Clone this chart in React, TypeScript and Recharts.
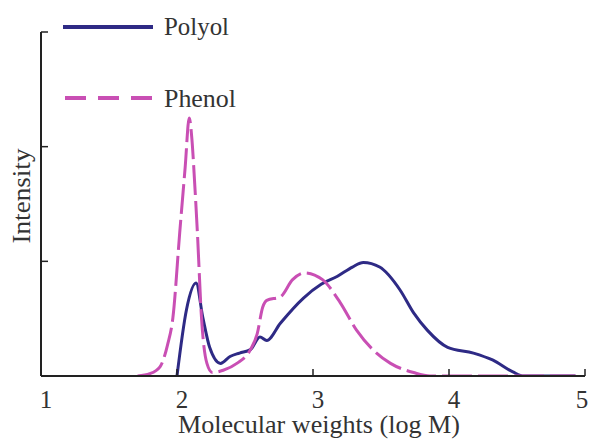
import React from "react";
import { LineChart, Line, XAxis, YAxis } from "recharts";

// log M positions and intensities
const polyolX = [
  2.0, 2.07, 2.14, 2.19, 2.24, 2.32, 2.39, 2.46, 2.54, 2.61, 2.66, 2.76, 2.93,
  3.06, 3.18, 3.29, 3.37, 3.49, 3.64, 3.74, 3.84, 3.99, 4.18, 4.32, 4.47, 4.55,
  4.93,
];
const polyolY = [
  0, 0.58, 0.81, 0.51, 0.25, 0.11, 0.17, 0.2, 0.23, 0.34, 0.31, 0.46, 0.68,
  0.8, 0.87, 0.95, 0.99, 0.95, 0.75, 0.55, 0.4, 0.25, 0.2, 0.14, 0.035, 0, 0,
];

const phenolX = [
  1.71, 1.8, 1.875, 1.93, 1.97, 2.02, 2.06, 2.09, 2.11, 2.13, 2.15, 2.18, 2.22,
  2.26, 2.34, 2.44, 2.54, 2.59, 2.63, 2.66, 2.76, 2.85, 2.94, 3.07, 3.2, 3.32,
  3.44, 3.57, 3.74, 3.86, 4.93,
];
const phenolY = [
  0, 0.02, 0.08, 0.27, 0.51, 1.25, 1.82, 2.25, 2.06, 1.68, 1.25, 0.51, 0.11,
  0.03, 0.05, 0.11, 0.23, 0.37, 0.6, 0.66, 0.69, 0.84, 0.9, 0.84, 0.64, 0.4,
  0.23, 0.11, 0.03, 0, 0,
];

const xTicks = [1, 2, 3, 4, 5];
const yTicks = [0, 1, 2, 3];

const NAVY = "#2e2a85";
const MAGENTA = "#c94fb4";
const INK = "#222";
const TEXT = "#333";
const FONT = "'Liberation Serif', 'Times New Roman', serif";

const polyolData = polyolX.map((x, i) => ({ x, y: polyolY[i] }));
const phenolData = phenolX.map((x, i) => ({ x, y: phenolY[i] }));

const XTick = (props: any) => {
  const { x, y, payload } = props;
  return (
    <g>
      <line x1={x} y1={y} x2={x} y2={y - 7} stroke={INK} strokeWidth={1.5} />
      <text
        x={Math.min(x + 5, 582)}
        y={y + 32}
        textAnchor="middle"
        fontFamily={FONT}
        fontSize={25}
        fill={TEXT}
      >
        {payload.value}
      </text>
    </g>
  );
};

const YTick = (props: any) => {
  const { x, y } = props;
  return <line x1={x} y1={y} x2={x + 7} y2={y} stroke={INK} strokeWidth={1.5} />;
};

function Overlay() {
  return (
    <svg
      width={590}
      height={440}
      style={{ position: "absolute", left: 0, top: 0, pointerEvents: "none" }}
    >
      <line x1={63} y1={27} x2={153} y2={27} stroke={NAVY} strokeWidth={4} />
      <text x={164} y={35} fontFamily={FONT} fontSize={26} fill={TEXT}
        textLength={65} lengthAdjust="spacingAndGlyphs">
        Polyol
      </text>
      <line x1={65} y1={98} x2={153} y2={98} stroke={MAGENTA} strokeWidth={4}
        strokeDasharray="21 12" />
      <text x={164} y={107} fontFamily={FONT} fontSize={26} fill={TEXT}
        textLength={72} lengthAdjust="spacingAndGlyphs">
        Phenol
      </text>
      <text
        transform="translate(30, 196) rotate(-90)"
        textAnchor="middle"
        fontFamily={FONT}
        fontSize={26}
        fill={TEXT}
        textLength={95}
        lengthAdjust="spacingAndGlyphs"
      >
        Intensity
      </text>
      <text x={319} y={433} textAnchor="middle" fontFamily={FONT} fontSize={25}
        fill={TEXT} textLength={282} lengthAdjust="spacingAndGlyphs">
        Molecular weights (log M)
      </text>
    </svg>
  );
}

export default function App() {
  return (
    <div style={{ position: "absolute", left: 0, top: 0, width: 590, height: 440, background: "#fff" }}>
      <LineChart
        width={590}
        height={440}
        margin={{ top: 32, right: 5, left: 0, bottom: 0 }}
      >
        <XAxis
          type="number"
          dataKey="x"
          domain={[1, 5]}
          ticks={xTicks}
          height={64}
          tickSize={0}
          tickMargin={0}
          tick={<XTick />}
          tickLine={false}
          stroke={INK}
          strokeWidth={2}
          allowDataOverflow
        />
        <YAxis
          type="number"
          dataKey="y"
          domain={[0, 3]}
          ticks={yTicks}
          width={41}
          tickSize={0}
          tickMargin={0}
          tick={<YTick />}
          tickLine={false}
          stroke={INK}
          strokeWidth={2}
          allowDataOverflow
        />
        <Line
          data={polyolData}
          dataKey="y"
          type="monotone"
          stroke={NAVY}
          strokeWidth={3}
          dot={false}
          isAnimationActive={false}
        />
        <Line
          data={phenolData}
          dataKey="y"
          type="monotone"
          stroke={MAGENTA}
          strokeWidth={3}
          strokeDasharray="30 6"
          dot={false}
          isAnimationActive={false}
        />
      </LineChart>
      <Overlay />
    </div>
  );
}
